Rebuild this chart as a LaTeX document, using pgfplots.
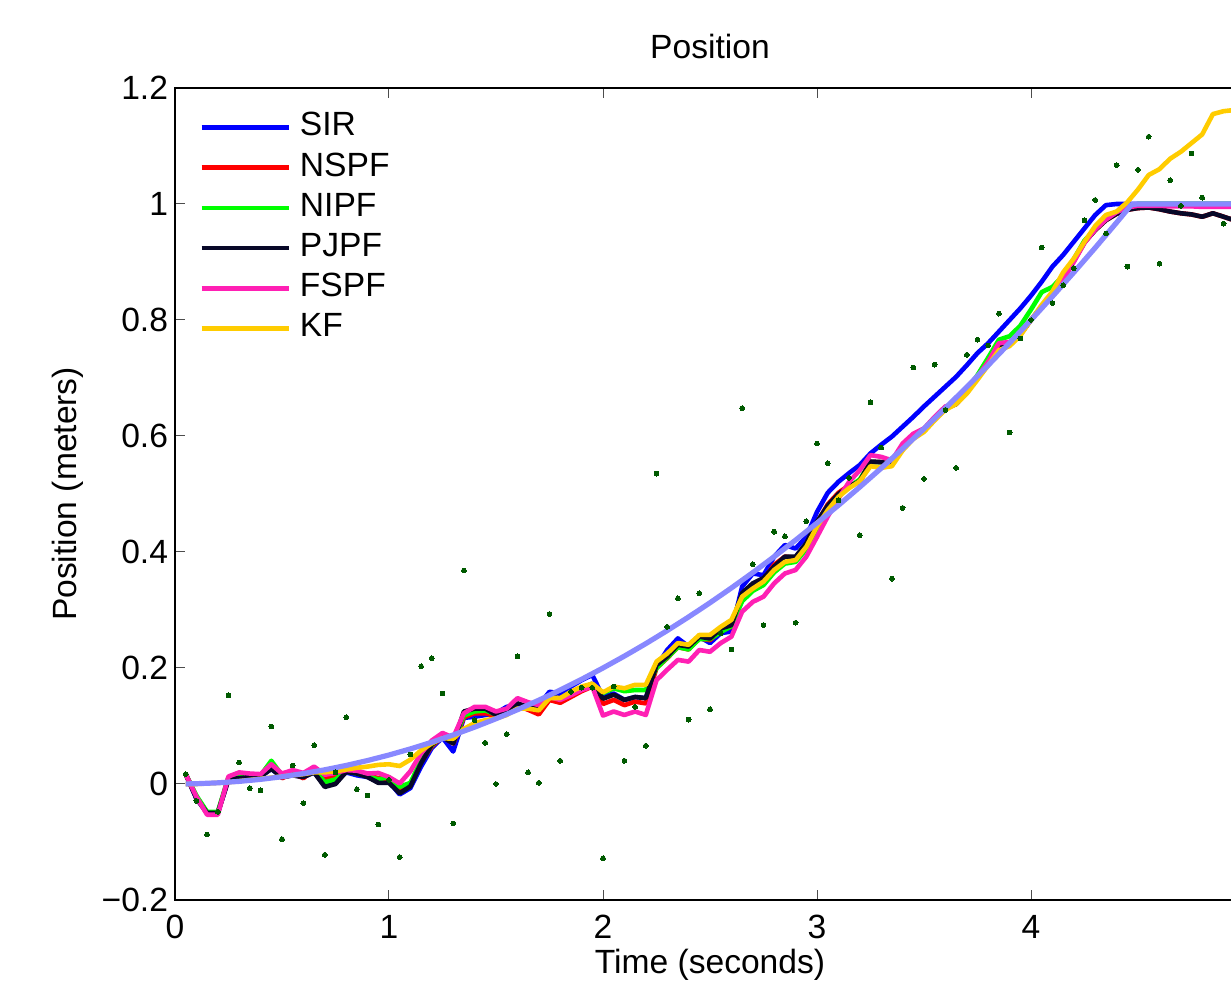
\documentclass[border=0pt]{standalone}
\usepackage{pgfplots}
\pgfplotsset{compat=1.18}
\usepackage{pgfplotstable}
\usepackage{fontspec}
\setmainfont{Liberation Sans}
\definecolor{cSIR}{RGB}{0,0,255}
\definecolor{cNSPF}{RGB}{255,0,0}
\definecolor{cNIPF}{RGB}{0,255,0}
\definecolor{cPJPF}{RGB}{8,8,40}
\definecolor{cFSPF}{RGB}{255,32,180}
\definecolor{cKF}{RGB}{255,204,0}
\definecolor{cTruth}{RGB}{136,136,255}
\definecolor{cMeas}{RGB}{0,90,0}
\pgfplotstableread{
t sir nspf nipf pjpf fspf kf meas
0.05 0.017 0.017 0.017 0.017 0.017 0.000 0.017
0.10 -0.025 -0.022 -0.020 -0.025 -0.022 0.000 -0.029
0.15 -0.050 -0.050 -0.048 -0.050 -0.053 0.001 -0.087
0.20 -0.050 -0.050 -0.048 -0.050 -0.053 0.002 -0.048
0.25 0.008 0.010 0.012 0.008 0.013 0.003 0.153
0.30 0.012 0.015 0.014 0.010 0.020 0.005 0.037
0.35 0.012 0.013 0.015 0.012 0.018 0.007 -0.007
0.40 0.013 0.012 0.015 0.013 0.017 0.009 -0.011
0.45 0.026 0.030 0.040 0.026 0.034 0.011 0.099
0.50 0.012 0.010 0.015 0.012 0.018 0.013 -0.095
0.55 0.015 0.018 0.020 0.015 0.024 0.015 0.032
0.60 0.012 0.010 0.016 0.012 0.019 0.017 -0.033
0.65 0.020 0.025 0.025 0.020 0.030 0.020 0.067
0.70 0.000 0.010 0.003 -0.005 0.016 0.020 -0.122
0.75 0.005 0.012 0.008 0.000 0.019 0.022 0.020
0.80 0.020 0.022 0.022 0.021 0.024 0.025 0.115
0.85 0.015 0.020 0.018 0.018 0.023 0.028 -0.009
0.90 0.012 0.015 0.013 0.012 0.018 0.030 -0.020
0.95 0.004 0.010 0.008 0.002 0.019 0.033 -0.070
1.00 0.004 0.008 0.012 0.002 0.012 0.034 0.007
1.05 -0.018 -0.010 -0.005 -0.016 0.001 0.031 -0.126
1.10 -0.007 0.000 0.002 -0.004 0.022 0.042 0.051
1.15 0.030 0.038 0.040 0.036 0.053 0.058 0.203
1.20 0.062 0.065 0.067 0.068 0.075 0.070 0.217
1.25 0.080 0.082 0.083 0.081 0.088 0.079 0.156
1.30 0.056 0.070 0.072 0.070 0.080 0.078 -0.068
1.35 0.114 0.115 0.118 0.125 0.122 0.095 0.368
1.40 0.116 0.122 0.125 0.130 0.133 0.105 0.110
1.45 0.119 0.122 0.127 0.130 0.133 0.110 0.071
1.50 0.122 0.117 0.120 0.119 0.125 0.113 0.000
1.55 0.133 0.122 0.125 0.125 0.130 0.119 0.086
1.60 0.136 0.135 0.138 0.139 0.148 0.130 0.220
1.65 0.130 0.128 0.132 0.133 0.141 0.130 0.020
1.70 0.136 0.120 0.128 0.128 0.136 0.127 0.002
1.75 0.159 0.145 0.150 0.150 0.150 0.148 0.293
1.80 0.156 0.140 0.146 0.148 0.145 0.148 0.040
1.85 0.168 0.150 0.155 0.156 0.153 0.159 0.159
1.90 0.179 0.160 0.165 0.165 0.162 0.168 0.166
1.95 0.188 0.168 0.172 0.173 0.168 0.173 0.166
2.00 0.150 0.138 0.157 0.147 0.118 0.158 -0.128
2.05 0.156 0.145 0.165 0.154 0.125 0.168 0.168
2.10 0.145 0.136 0.160 0.145 0.119 0.165 0.040
2.15 0.150 0.142 0.162 0.150 0.125 0.171 0.133
2.20 0.148 0.139 0.162 0.148 0.119 0.171 0.066
2.25 0.202 0.200 0.200 0.205 0.179 0.211 0.535
2.30 0.231 0.217 0.218 0.220 0.197 0.225 0.271
2.35 0.251 0.236 0.236 0.240 0.214 0.243 0.320
2.40 0.237 0.232 0.232 0.237 0.211 0.240 0.111
2.45 0.254 0.251 0.250 0.254 0.231 0.257 0.329
2.50 0.243 0.248 0.250 0.251 0.228 0.257 0.129
2.55 0.260 0.265 0.262 0.268 0.243 0.271 0.260
2.60 0.263 0.271 0.272 0.274 0.254 0.283 0.232
2.65 0.340 0.325 0.315 0.329 0.297 0.323 0.648
2.70 0.363 0.343 0.333 0.346 0.314 0.337 0.379
2.75 0.360 0.352 0.343 0.355 0.323 0.349 0.274
2.80 0.392 0.378 0.365 0.375 0.346 0.369 0.435
2.85 0.412 0.392 0.380 0.392 0.363 0.383 0.427
2.90 0.406 0.390 0.383 0.392 0.369 0.386 0.278
2.95 0.426 0.413 0.405 0.415 0.392 0.409 0.453
3.00 0.469 0.450 0.440 0.452 0.426 0.444 0.587
3.05 0.502 0.482 0.475 0.480 0.461 0.472 0.553
3.10 0.521 0.502 0.497 0.500 0.492 0.495 0.489
3.15 0.536 0.515 0.512 0.513 0.521 0.510 0.528
3.20 0.550 0.520 0.525 0.522 0.541 0.522 0.429
3.25 0.570 0.555 0.555 0.556 0.567 0.548 0.658
3.30 0.585 0.555 0.555 0.555 0.564 0.545 0.580
3.35 0.599 0.552 0.552 0.552 0.558 0.548 0.354
3.40 0.616 0.580 0.580 0.580 0.587 0.575 0.476
3.45 0.633 0.600 0.600 0.600 0.604 0.595 0.718
3.50 0.651 0.610 0.612 0.610 0.613 0.607 0.526
3.55 0.668 0.630 0.632 0.630 0.633 0.627 0.723
3.60 0.685 0.648 0.650 0.648 0.651 0.645 0.645
3.65 0.702 0.655 0.656 0.655 0.656 0.655 0.545
3.70 0.722 0.675 0.677 0.675 0.679 0.673 0.740
3.75 0.743 0.700 0.705 0.700 0.702 0.697 0.766
3.80 0.760 0.725 0.735 0.725 0.728 0.722 0.756
3.85 0.780 0.752 0.766 0.752 0.760 0.748 0.811
3.90 0.800 0.758 0.772 0.758 0.762 0.755 0.606
3.95 0.820 0.775 0.790 0.775 0.777 0.773 0.768
4.00 0.842 0.800 0.818 0.800 0.800 0.800 0.800
4.05 0.866 0.823 0.848 0.823 0.823 0.826 0.925
4.10 0.892 0.843 0.857 0.845 0.845 0.849 0.829
4.15 0.912 0.870 0.876 0.870 0.870 0.882 0.860
4.20 0.935 0.902 0.905 0.902 0.900 0.906 0.889
4.25 0.958 0.934 0.937 0.934 0.933 0.935 0.972
4.30 0.981 0.955 0.956 0.955 0.956 0.962 1.007
4.35 0.998 0.972 0.973 0.972 0.973 0.981 0.949
4.40 1.000 0.983 0.985 0.983 0.986 0.987 1.067
4.45 1.000 0.990 0.995 0.990 0.994 1.003 0.892
4.50 1.000 0.993 1.000 0.993 0.997 1.025 1.059
4.55 1.000 0.994 1.000 0.994 0.997 1.050 1.116
4.60 1.000 0.991 1.000 0.991 0.997 1.060 0.897
4.65 1.000 0.987 1.000 0.987 0.996 1.078 1.041
4.70 1.000 0.984 1.000 0.984 0.996 1.090 0.997
4.75 1.000 0.982 1.000 0.982 0.996 1.105 1.087
4.80 1.000 0.978 1.000 0.978 0.995 1.120 1.011
4.85 1.000 0.984 1.000 0.984 0.995 1.155 1.202
4.90 1.000 0.978 1.000 0.978 0.995 1.160 0.966
4.95 1.000 0.972 1.000 0.972 0.995 1.162 0.936
5.00 1.000 0.968 1.000 0.968 0.995 1.163 1.000
}\datatable
\pgfplotstableread{
t y
0.05 0.0001
0.1 0.0005
0.2 0.002
0.3 0.0045
0.4 0.008
0.5 0.0125
0.6 0.018
0.7 0.0245
0.8 0.032
0.9 0.0405
1.0 0.05
1.1 0.0605
1.2 0.072
1.3 0.0845
1.4 0.098
1.5 0.1125
1.6 0.128
1.7 0.1445
1.8 0.162
1.9 0.1805
2.0 0.2
2.1 0.2205
2.2 0.242
2.3 0.2645
2.4 0.288
2.5 0.3125
2.6 0.338
2.7 0.3645
2.8 0.392
2.9 0.4205
3.0 0.45
3.1 0.4805
3.2 0.512
3.3 0.5445
3.4 0.578
3.5 0.6125
3.6 0.648
3.7 0.6845
3.8 0.722
3.9 0.7605
4.0 0.8
4.1 0.8405
4.2 0.882
4.3 0.9245
4.4 0.968
4.47 0.999
4.5 1.0
5.0 1.0
}\truthtable
\newcommand{\fs}{\fontsize{16.8bp}{20bp}\selectfont}
\begin{document}
\begin{tikzpicture}
\begin{axis}[
  name=ax,
  scale only axis,
  width=535bp, height=406bp,
  xmin=0, xmax=5, ymin=-0.2, ymax=1.2,
  xtick={0,1,2,3,4},
  xticklabels={0,1,2,3,4},
  ytick={-0.2,0,0.2,0.4,0.6,0.8,1,1.2},
  yticklabels={−0.2,0,0.2,0.4,0.6,0.8,1,1.2},
  tick align=inside,
  xtick pos=both, ytick pos=both,
  xticklabel pos=left, yticklabel pos=left,
  major tick length=5bp,
  tick style={black!70, line width=0.5bp},
  axis line style={black, line width=0.7bp},
  tick label style={font=\fs},
  xticklabel style={yshift=-4bp},
  title={Position},
  title style={font=\fs, at={(axis description cs:0.5,1.036)}, anchor=center},
  xlabel={Time (seconds)},
  xlabel style={font=\fs, at={(axis description cs:0.5,-0.0795)}, anchor=center},
  ylabel={Position (meters)},
  ylabel style={font=\fs, at={(axis description cs:-0.1,0.5)}, anchor=center},
  legend cell align=left,
  legend image code/.code={\draw[#1] (0bp,0bp) -- (43.5bp,0bp);},
  legend style={at={(axis description cs:0.0224,0.971)}, anchor=north west,
    draw=none, fill=none, font=\fs, inner sep=0pt, row sep=4.6bp,
    nodes={inner sep=0pt, text height=12bp, text depth=3.5bp},
    /tikz/every odd column/.append style={column sep=4.5bp}},
  every axis plot/.append style={line width=2.3bp, line join=round},
]
\addplot[cSIR, no marks] table[x=t, y=sir] {\datatable};
\addlegendentry{SIR}
\addplot[cNSPF, no marks] table[x=t, y=nspf] {\datatable};
\addlegendentry{NSPF}
\addplot[cNIPF, no marks] table[x=t, y=nipf] {\datatable};
\addlegendentry{NIPF}
\addplot[cPJPF, no marks] table[x=t, y=pjpf] {\datatable};
\addlegendentry{PJPF}
\addplot[cFSPF, no marks] table[x=t, y=fspf] {\datatable};
\addlegendentry{FSPF}
\addplot[cKF, no marks] table[x=t, y=kf] {\datatable};
\addlegendentry{KF}
\addplot[cTruth, no marks, line width=2.6bp, forget plot] table[x=t, y=y] {\truthtable};
\addplot[only marks, mark=*, mark size=1.2bp, cMeas, mark options={fill=cMeas, draw=cMeas, line width=0bp}, forget plot] table[x=t, y=meas] {\datatable};
\end{axis}
\pgfresetboundingbox
\path[use as bounding box] ([shift={(-87.5bp,-41.5bp)}]ax.south west) rectangle ([shift={(528bp,450bp)}]ax.south west);
\end{tikzpicture}
\end{document}
